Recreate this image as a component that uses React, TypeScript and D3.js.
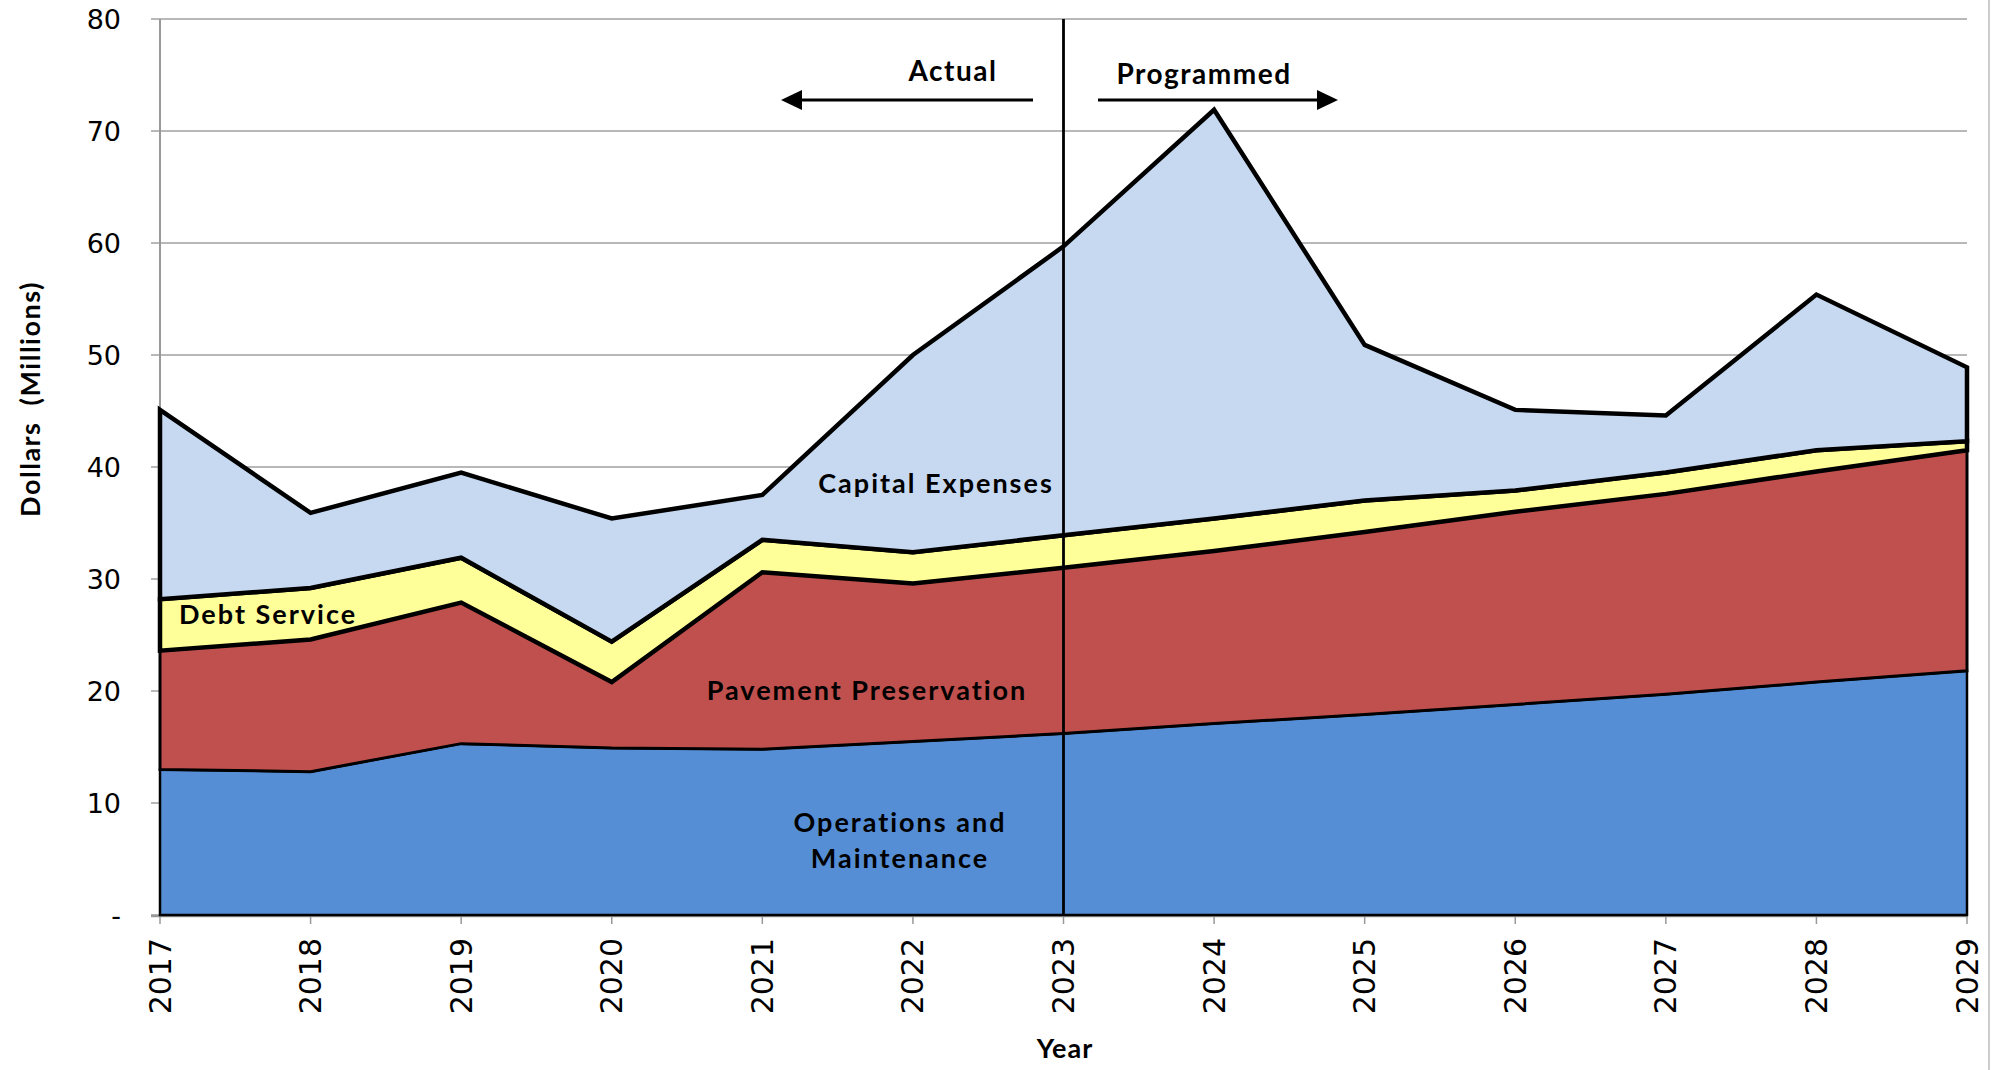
import React from 'react';
import * as d3 from 'd3';

// data (millions of dollars)
const years = [2017, 2018, 2019, 2020, 2021, 2022, 2023, 2024, 2025, 2026, 2027, 2028, 2029];
const operations = [13.0, 12.8, 15.3, 14.9, 14.8, 15.5, 16.2, 17.1, 17.9, 18.8, 19.7, 20.8, 21.8];
const pavement = [10.6, 11.8, 12.6, 5.9, 15.8, 14.1, 14.8, 15.4, 16.3, 17.2, 17.9, 18.8, 19.7];
const debt = [4.6, 4.6, 4.0, 3.6, 2.9, 2.8, 2.9, 2.9, 2.8, 1.9, 1.9, 1.9, 0.8];
const capital = [16.9, 6.7, 7.6, 11.0, 4.0, 17.6, 25.8, 36.5, 13.9, 7.2, 5.1, 13.9, 6.6];
const yTicks = [0, 10, 20, 30, 40, 50, 60, 70, 80];
const splitYear = 2023;

const seriesKeys = ['operations', 'pavement', 'debt', 'capital'];
const seriesFill: Record<string, string> = {
    operations: '#558ED5',
    pavement: '#C0504D',
    debt: '#FFFF99',
    capital: '#C6D9F1',
};
const seriesStroke: Record<string, number> = {
    operations: 2.5,
    pavement: 3,
    debt: 4.5,
    capital: 4.5,
};

const W = 1995;
const H = 1070;
const left = 160;
const right = 1967;
const top = 19;
const bottom = 915;

const tickFont = '"DejaVu Sans", sans-serif';
const boldFont = 'Lato, "DejaVu Sans", sans-serif';

const App: React.FC = () => {
    const rows = years.map((y, i) => ({
        year: y,
        operations: operations[i],
        pavement: pavement[i],
        debt: debt[i],
        capital: capital[i],
    }));

    const x = d3.scaleLinear().domain([years[0], years[years.length - 1]]).range([left, right]);
    const y = d3.scaleLinear().domain([0, 80]).range([bottom, top]);

    const stack = d3.stack<any>().keys(seriesKeys);
    const layers = stack(rows);

    const area = d3.area<any>()
        .x(d => x(d.data.year))
        .y0(d => y(d[0]))
        .y1(d => y(d[1]));

    const xs = x(splitYear);
    const arrowY = 100;
    const lbl = {fontFamily: boldFont, fontWeight: 'bold' as const, fontSize: 27, letterSpacing: 2};

    return (
        <svg width={W} height={H} style={{position: 'absolute', left: 0, top: 0, background: '#fff'}}>
            {/* gridlines */}
            {yTicks.map(t => (
                <line key={'g' + t} x1={left - 9} x2={right} y1={y(t)} y2={y(t)} stroke="#a0a0a0" strokeWidth={1.5}/>
            ))}
            {/* axes */}
            <line x1={left} x2={left} y1={top} y2={bottom} stroke="#999" strokeWidth={2}/>
            <line x1={left - 9} x2={right} y1={bottom + 1} y2={bottom + 1} stroke="#999" strokeWidth={2.5}/>
            {years.map(yr => (
                <line key={'t' + yr} x1={x(yr)} x2={x(yr)} y1={bottom} y2={bottom + 9} stroke="#999" strokeWidth={1.5}/>
            ))}
            <line x1={1989} x2={1989} y1={0} y2={H} stroke="#bbb" strokeWidth={1.5}/>

            {/* stacked areas */}
            {layers.map(layer => (
                <path
                    key={layer.key}
                    d={area(layer)!}
                    fill={seriesFill[layer.key]}
                    stroke="#000"
                    strokeWidth={seriesStroke[layer.key]}
                    strokeLinejoin="miter"
                />
            ))}

            {/* actual / programmed divider */}
            <line x1={xs} x2={xs} y1={top} y2={bottom} stroke="#000" strokeWidth={2.8}/>
            <line x1={1033} x2={800} y1={arrowY} y2={arrowY} stroke="#000" strokeWidth={3}/>
            <path d={`M781,${arrowY} L802,${arrowY - 10} L802,${arrowY + 10} Z`} fill="#000"/>
            <line x1={1098} x2={1318} y1={arrowY} y2={arrowY} stroke="#000" strokeWidth={3}/>
            <path d={`M1338,${arrowY} L1317,${arrowY - 10} L1317,${arrowY + 10} Z`} fill="#000"/>
            <text x={953} y={81} textAnchor="middle" {...lbl} fontSize={28} letterSpacing={1.5}>Actual</text>
            <text x={1204} y={84} textAnchor="middle" {...lbl} fontSize={28} letterSpacing={1.5}>Programmed</text>

            {/* series labels */}
            <text x={936} y={493} textAnchor="middle" {...lbl}>Capital Expenses</text>
            <text x={179} y={624} {...lbl}>Debt Service</text>
            <text x={867} y={700} textAnchor="middle" {...lbl}>Pavement Preservation</text>
            <text x={900} y={832} textAnchor="middle" {...lbl}>Operations and</text>
            <text x={900} y={868} textAnchor="middle" {...lbl}>Maintenance</text>

            {/* y tick labels */}
            {yTicks.map(t => (
                <text key={'yl' + t} x={121} y={y(t)} textAnchor="end" dominantBaseline="central"
                      fontFamily={tickFont} fontSize={27}>{t === 0 ? '-' : t}</text>
            ))}
            {/* x tick labels */}
            {years.map(yr => (
                <text key={'xl' + yr} transform={`translate(${x(yr)},938) rotate(-90)`} textAnchor="end"
                      dominantBaseline="central" fontFamily={tickFont} fontSize={30}>{yr}</text>
            ))}

            {/* axis titles */}
            <text transform="translate(29,399) rotate(-90)" textAnchor="middle" dominantBaseline="central"
                  fontFamily={boldFont} fontWeight="bold" fontSize={27} letterSpacing={1.5}
                  style={{whiteSpace: 'pre'}}>{'Dollars  (Millions)'}</text>
            <text x={1065} y={1058} textAnchor="middle" fontFamily={boldFont} fontWeight="bold" fontSize={27}
                  letterSpacing={1}>Year</text>
        </svg>
    );
};

export default App;
